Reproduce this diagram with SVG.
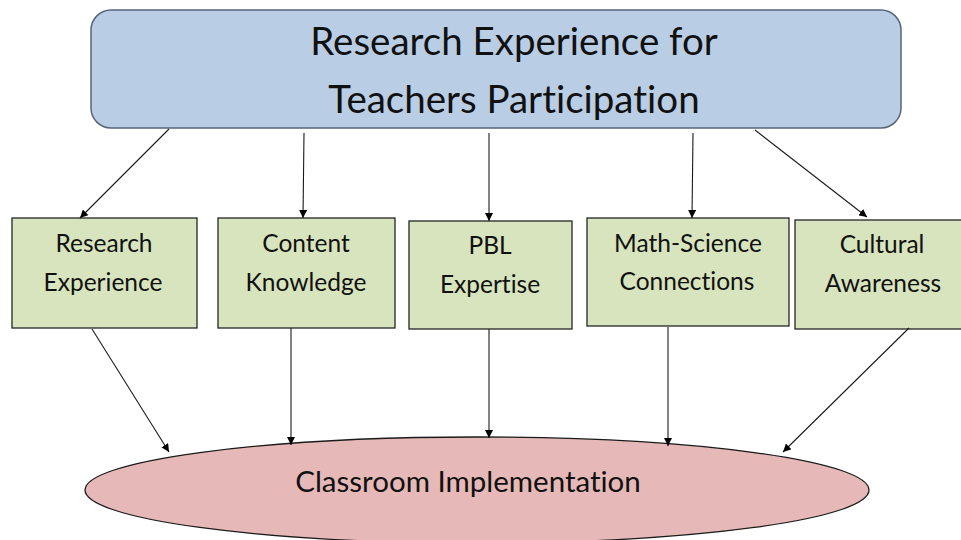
<svg xmlns="http://www.w3.org/2000/svg" width="961" height="540" viewBox="0 0 961 540">
  <defs>
    <marker id="arrow" viewBox="0 0 10 10" refX="10" refY="5" markerWidth="8" markerHeight="8" markerUnits="userSpaceOnUse" orient="auto">
      <path d="M0,0 L10,5 L0,10 z" fill="#000"/>
    </marker>
    <style>
      text { font-family: Lato, "Open Sans", "Liberation Sans", sans-serif; fill: #111; text-anchor: middle; font-variant-ligatures: none; }
      .title { font-size: 38.5px; }
      .label { font-size: 24.5px; }
      .oval-label { font-size: 29.5px; }
      .top { fill: #B9CDE5; stroke: #56657A; stroke-width: 1.5; }
      .box { fill: #D7E4BD; stroke: #262626; stroke-width: 1.3; }
      .oval { fill: #E6B9B8; stroke: #1a1a1a; stroke-width: 1.3; }
      .conn line { stroke: #1a1a1a; stroke-width: 1.1; marker-end: url(#arrow); }
    </style>
  </defs>
  <rect width="961" height="540" fill="#fff"/>

  <!-- top node -->
  <g id="participation">
    <rect class="top" x="91" y="10" width="810" height="118" rx="20" ry="20"/>
    <text class="title" x="514" y="55">Research Experience for</text>
    <text class="title" x="514" y="113">Teachers Participation</text>
  </g>

  <!-- middle nodes -->
  <g id="research-experience">
    <rect class="box" x="12" y="218" width="185" height="110"/>
    <text class="label" x="104" y="252">Research</text>
    <text class="label" x="103" y="291">Experience</text>
  </g>
  <g id="content-knowledge">
    <rect class="box" x="218" y="218" width="177" height="110"/>
    <text class="label" x="306" y="252">Content</text>
    <text class="label" x="306" y="291">Knowledge</text>
  </g>
  <g id="pbl-expertise">
    <rect class="box" x="409" y="221" width="163" height="108"/>
    <text class="label" x="490" y="254">PBL</text>
    <text class="label" x="490" y="293">Expertise</text>
  </g>
  <g id="math-science">
    <rect class="box" x="587" y="218" width="202" height="108"/>
    <text class="label" x="688" y="252">Math-Science</text>
    <text class="label" x="687" y="290">Connections</text>
  </g>
  <g id="cultural-awareness">
    <rect class="box" x="795" y="220" width="170" height="109"/>
    <text class="label" x="882" y="253">Cultural</text>
    <text class="label" x="883" y="292">Awareness</text>
  </g>

  <!-- bottom node -->
  <g id="classroom">
    <ellipse class="oval" cx="477" cy="490" rx="392" ry="53"/>
    <text class="oval-label" x="468" y="492">Classroom Implementation</text>
  </g>

  <!-- connectors -->
  <g id="connectors" class="conn">
    <line x1="169" y1="129" x2="80" y2="218"/>
    <line x1="304" y1="133" x2="303" y2="218"/>
    <line x1="489" y1="133" x2="489" y2="221"/>
    <line x1="693" y1="133" x2="692" y2="218"/>
    <line x1="755" y1="130" x2="867" y2="217"/>

    <line x1="92" y1="329" x2="169" y2="452"/>
    <line x1="291" y1="328" x2="291" y2="445"/>
    <line x1="489" y1="329" x2="489" y2="438"/>
    <line x1="668" y1="327" x2="668" y2="446"/>
    <line x1="909" y1="328" x2="783" y2="452"/>
  </g>
</svg>
